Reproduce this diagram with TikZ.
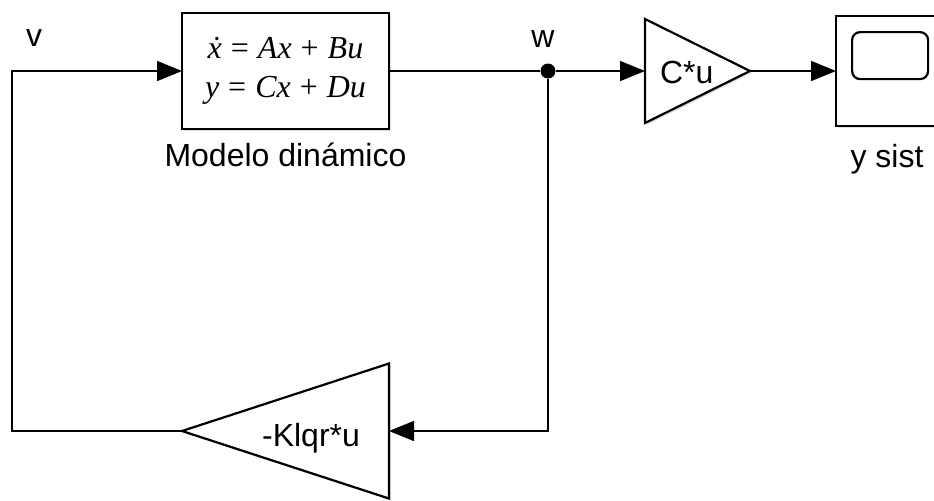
\documentclass[tikz,border=0pt]{standalone}
\usepackage{fontspec}
\setmainfont{Liberation Sans}
\newfontfamily\eqfont{Liberation Serif}
\usetikzlibrary{arrows.meta,positioning,shapes.geometric,shadows,calc}
\newcommand{\eqgap}{\hspace{4.5pt}}

\begin{document}
\begin{tikzpicture}[
  x=0.5pt, y=-0.5pt,
  >={Triangle[length=12.5pt,width=10pt]},
  font=\fontsize{16}{19}\selectfont,
  sig/.style={line width=0.8pt},
  blk/.style={draw, line width=1.1pt, fill=white, inner sep=0pt, outer sep=0pt,
    drop shadow={shadow xshift=1pt, shadow yshift=-1pt, opacity=0.25}},
  gain/.style={blk, isosceles triangle, isosceles triangle stretches},
  eqs/.style={align=center, font=\eqfont\fontsize{16}{19.5}\selectfont},
]
  \clip (0,0) rectangle (934,500);

  % State-space block
  \node[blk, eqs, minimum width=103.5pt, minimum height=58pt] (model) at (285.5,71)
    {\textit{\.x}\eqgap=\eqgap\textit{Ax}\eqgap+\eqgap\textit{Bu}\\
     \textit{y}\eqgap=\eqgap\textit{Cx}\eqgap+\eqgap\textit{Du}};
  \node[anchor=base] (modellbl) at ($(model.south)+(0,37)$) {Modelo dinámico};

  % Branch point
  \node[circle, fill, inner sep=0pt, minimum size=7.5pt] (wdot) at (548,71) {};

  % Gains
  \node[gain, minimum width=52pt, minimum height=52.5pt, anchor=west] (gc) at (645,71) {};
  \node[anchor=base west] (gclbl) at ($(gc.west)+(8,12)$) {C*u};
  \node[gain, shape border rotate=180, minimum width=67.5pt, minimum height=103.5pt,
    anchor=east] (gk) at (389,431) {};
  \node[anchor=base east] (gklbl) at ($(gk.east)+(-22,15)$) {-Klqr*u};

  % Scope
  \node[blk, minimum width=53pt, minimum height=55pt, anchor=west] (scope) at (836,71) {};
  \node[draw, line width=1.1pt, rounded corners=4pt, minimum width=38pt,
    minimum height=23.5pt, anchor=north west] (scdisp) at (851,31) {};
  \node[anchor=base] (scopelbl) at ($(scope.south)+(-2,41)$) {y sist};

  % Signal labels
  \node[anchor=base] (vlbl) at (34,46) {v};
  \node[anchor=base] (wlbl) at (543,47) {w};
  \coordinate (vcorner) at (12,71);

  % Wires
  \draw[sig] (model.east) -- (wdot);
  \draw[sig,->] (wdot) -- (gc.west);
  \draw[sig,->] (gc.east) -- (scope.west);
  \draw[sig,->] (wdot) |- (gk.east);
  \draw[sig,->] (gk.west) -| (vcorner) -- (model.west);
\end{tikzpicture}
\end{document}
